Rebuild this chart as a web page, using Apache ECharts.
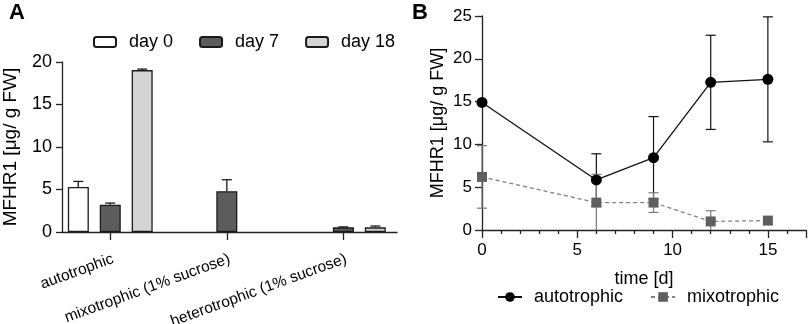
<!DOCTYPE html>
<html>
<head>
<meta charset="utf-8">
<script src="https://cdn.jsdelivr.net/npm/echarts@6/dist/echarts.min.js"></script>
<style>html,body{margin:0;padding:0;background:#fff}#c{width:809px;height:324px}</style>
</head>
<body>
<div id="c"></div>
<script>
// ---- Panel A data ----
const catsA = ['autotrophic', 'mixotrophic (1% sucrose)', 'heterotrophic (1% sucrose)'];
const day0 = [5.3, null, null];
const day7 = [3.2, 4.8, 0.55];
const day18 = [19.05, null, 0.55];
const day0Err = [0.65, null, null];
const day7Err = [0.2, 1.35, 0.05];
const day18Err = [0.12, null, 0.15];

// ---- Panel B data ----
const timeB = [0, 6, 9, 12, 15];
const autoB = [14.9, 5.85, 8.45, 17.25, 17.6];
const autoErrB = [0, 3.05, 4.8, 5.5, 7.3];
const mixoB = [6.2, 3.2, 3.2, 1.0, 1.1];
const mixoErrB = [3.65, 3.3, 1.15, 1.25, 0];

const FONT = 'Liberation Sans, Arial, sans-serif';
const AX = '#222';

function pairs(vals) {
  const out = [];
  vals.forEach((v, i) => { if (v !== null) out.push([i, v]); });
  return out;
}
const errRowsA = [];
[[day0, day0Err], [day7, day7Err], [day18, day18Err]].forEach((pair, k) => {
  pair[0].forEach((v, i) => { if (v !== null) errRowsA.push([i, v, v + pair[1][i], k]); });
});
const errRowsB = [];
timeB.forEach((t, i) => {
  errRowsB.push([t, autoB[i] - autoErrB[i], autoB[i] + autoErrB[i], 0]);
  errRowsB.push([t, mixoB[i] - mixoErrB[i], mixoB[i] + mixoErrB[i], 1]);
});

const BARW = 21, SLOT = 32;

const chart = echarts.init(document.getElementById('c'), null, {renderer: 'canvas'});
chart.setOption({
  animation: false,
  textStyle: {fontFamily: FONT},
  graphic: [
    {type: 'text', left: 9, top: 2, style: {text: 'A', font: 'bold 22px ' + FONT, fill: '#000'}},
    {type: 'text', left: 412, top: 2, style: {text: 'B', font: 'bold 22px ' + FONT, fill: '#000'}}
  ],
  legend: [
    {
      left: 93, top: 33, padding: 0, itemWidth: 22, itemHeight: 10, itemGap: 26,
      data: ['day 0', 'day 7', 'day 18'],
      textStyle: {fontSize: 18, color: '#000', fontFamily: FONT, padding: [0, 0, 0, 8]}
    },
    {
      left: 497, top: 288, padding: 0, itemWidth: 24, itemHeight: 12, itemGap: 27,
      data: ['autotrophic', 'mixotrophic'],
      textStyle: {fontSize: 18, color: '#000', fontFamily: FONT, padding: [0, 0, 0, 7]}
    }
  ],
  grid: [
    {left: 62, top: 62, width: 335, height: 170, outerBoundsMode: 'none', containLabel: false},
    {left: 482, top: 16, width: 324, height: 214, outerBoundsMode: 'none', containLabel: false}
  ],
  xAxis: [
    {
      gridIndex: 0, type: 'value', min: -0.414, max: 2.46,
      axisLine: {onZero: false, lineStyle: {color: AX, width: 1.3}},
      axisTick: {show: true, customValues: [0, 1, 2], length: 8, lineStyle: {color: AX, width: 1.3}},
      axisLabel: {customValues: [0, 1, 2], formatter: v => catsA[Math.round(v)], rotate: 20,
        verticalAlign: 'top', margin: 19, fontSize: 15.5, color: '#000', fontFamily: FONT},
      splitLine: {show: false}
    },
    {
      gridIndex: 1, type: 'value', min: 0, max: 17, interval: 5,
      name: 'time [d]', nameLocation: 'middle', nameGap: 40,
      nameTextStyle: {fontSize: 18, color: '#000', fontFamily: FONT},
      axisLine: {onZero: false, lineStyle: {color: AX, width: 1.3}},
      axisTick: {length: 8, lineStyle: {color: AX, width: 1.3}},
      minorTick: {show: true, splitNumber: 5, length: 4, lineStyle: {color: AX, width: 1.3}},
      axisLabel: {fontSize: 17, color: '#000', margin: 12, showMaxLabel: false, fontFamily: FONT},
      splitLine: {show: false}
    }
  ],
  yAxis: [
    {
      gridIndex: 0, type: 'value', min: 0, max: 20, interval: 5,
      name: 'MFHR1 [μg/ g FW]', nameLocation: 'middle', nameGap: 42,
      nameTextStyle: {fontSize: 19, color: '#000', fontFamily: FONT},
      axisLine: {show: true, onZero: false, lineStyle: {color: AX, width: 1.3}},
      axisTick: {show: true, length: 6, lineStyle: {color: AX, width: 1.3}},
      axisLabel: {fontSize: 18, color: '#000', margin: 10, fontFamily: FONT},
      splitLine: {show: false}
    },
    {
      gridIndex: 1, type: 'value', min: 0, max: 25, interval: 5,
      name: 'MFHR1 [μg/ g FW]', nameLocation: 'middle', nameGap: 35,
      nameTextStyle: {fontSize: 18, color: '#000', fontFamily: FONT},
      axisLine: {show: true, onZero: false, lineStyle: {color: AX, width: 1.3}},
      axisTick: {show: true, length: 7, lineStyle: {color: AX, width: 1.3}},
      axisLabel: {fontSize: 17, color: '#000', margin: 10, fontFamily: FONT},
      splitLine: {show: false}
    }
  ],
  series: [
    {
      name: 'day 0', type: 'bar', xAxisIndex: 0, yAxisIndex: 0, data: pairs(day0),
      barWidth: BARW, barGap: '52%',
      itemStyle: {color: '#ffffff', borderColor: '#1a1a1a', borderWidth: 1.3}
    },
    {
      name: 'day 7', type: 'bar', xAxisIndex: 0, yAxisIndex: 0, data: pairs(day7),
      barWidth: BARW, barGap: '52%',
      itemStyle: {color: '#5c5c5c', borderColor: '#1a1a1a', borderWidth: 1.3}
    },
    {
      name: 'day 18', type: 'bar', xAxisIndex: 0, yAxisIndex: 0, data: pairs(day18),
      barWidth: BARW, barGap: '52%',
      itemStyle: {color: '#d4d4d4', borderColor: '#1a1a1a', borderWidth: 1.3}
    },
    {
      name: 'errA', type: 'custom', xAxisIndex: 0, yAxisIndex: 0, data: errRowsA, z: 1,
      renderItem: function (params, api) {
        const k = api.value(3);
        const base = api.coord([api.value(0), api.value(1)]);
        const top = api.coord([api.value(0), api.value(2)]);
        const x = base[0] + (k - 1) * SLOT;
        const st = {stroke: '#1a1a1a', lineWidth: 1.3};
        return {type: 'group', children: [
          {type: 'line', shape: {x1: x, y1: base[1], x2: x, y2: top[1]}, style: st},
          {type: 'line', shape: {x1: x - 5, y1: top[1], x2: x + 5, y2: top[1]}, style: st}
        ]};
      }
    },
    {
      name: 'errB', type: 'custom', xAxisIndex: 1, yAxisIndex: 1, data: errRowsB, z: 1,
      renderItem: function (params, api) {
        const k = api.value(3);
        const lowV = api.value(1), highV = api.value(2);
        if (highV === lowV) return null;
        const lo = api.coord([api.value(0), Math.max(0, lowV)]);
        const hi = api.coord([api.value(0), highV]);
        const st = {stroke: k === 0 ? '#111' : '#7a7a7a', lineWidth: 1.2};
        const ch = [
          {type: 'line', shape: {x1: lo[0], y1: lo[1], x2: hi[0], y2: hi[1]}, style: st},
          {type: 'line', shape: {x1: hi[0] - 5, y1: hi[1], x2: hi[0] + 5, y2: hi[1]}, style: st}
        ];
        if (lowV > 0) ch.push({type: 'line', shape: {x1: lo[0] - 5, y1: lo[1], x2: lo[0] + 5, y2: lo[1]}, style: st});
        return {type: 'group', children: ch};
      }
    },
    {
      name: 'autotrophic', type: 'line', xAxisIndex: 1, yAxisIndex: 1, z: 3,
      data: timeB.map((t, i) => [t, autoB[i]]),
      symbol: 'circle', symbolSize: 11,
      lineStyle: {color: '#111', width: 1.3},
      itemStyle: {color: '#000'}
    },
    {
      name: 'mixotrophic', type: 'line', xAxisIndex: 1, yAxisIndex: 1, z: 2,
      data: timeB.map((t, i) => [t, mixoB[i]]),
      symbol: 'rect', symbolSize: 10,
      lineStyle: {color: '#808080', width: 1.3, type: [4, 3]},
      itemStyle: {color: '#5f5f5f'}
    }
  ]
});
</script>
</body>
</html>
